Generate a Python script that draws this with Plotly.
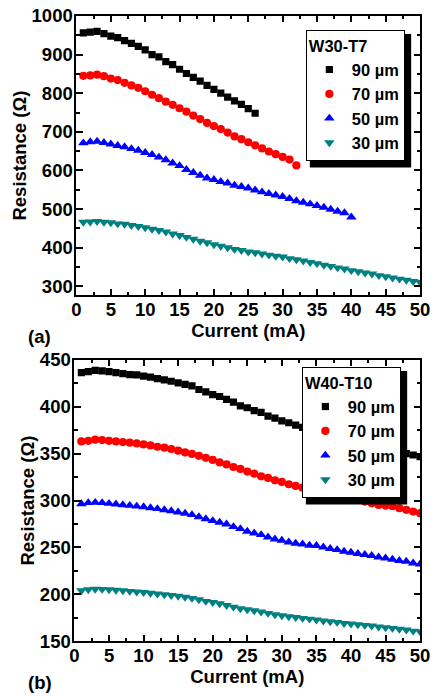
import plotly.graph_objects as go

# ---------------- data ----------------
current = list(range(1, 51))  # mA

# panel (a) W30-T7
a_90 = [956, 958, 960, 954, 948, 944, 936, 929, 921, 912, 900, 894, 882, 874, 862,
        851, 841, 831, 820, 810, 800, 790, 780, 771, 760, 748]
a_70 = [845, 846, 848, 844, 838, 834, 827, 820, 814, 805, 796, 787, 778, 770, 761,
        752, 742, 733, 723, 715, 707, 698, 688, 681, 673, 665, 657, 649, 642, 635,
        628, 613]
a_50 = [671, 674, 675, 672, 668, 664, 661, 656, 652, 646, 641, 634, 627, 619, 612,
        602, 594, 587, 580, 576, 571, 567, 561, 558, 554, 549, 544, 540, 536, 532,
        527, 521, 517, 513, 509, 504, 499, 494, 490, 479]
a_30 = [466, 467, 468, 466, 465, 462, 461, 458, 455, 452, 448, 445, 441, 436, 432,
        427, 422, 417, 413, 408, 404, 400, 396, 393, 389, 387, 384, 381, 378, 376,
        372, 369, 366, 362, 359, 355, 352, 348, 345, 341, 338, 335, 332, 328, 325,
        322, 319, 316, 313, 310]

# panel (b) W40-T10
b_90 = [436.5, 437.6, 439.0, 438.3, 437.6, 436.5, 435.4, 434.4, 434.0, 432.7, 431.6,
        430.0, 428.7, 427.3, 425.5, 424.0, 422.3, 418.5, 416.0, 413.0, 411.0, 408.0,
        405.0, 401.0, 399.0, 396.0, 394.0, 390.0, 388.0, 385.0, 383.0, 380.5, 378.0,
        375.5, 373.5, 371.5, 369.5, 367.5, 365.5, 363.5, 361.5, 359.5, 357.5, 355.5,
        354.0, 352.5, 351.0, 350.0, 348.6, 346.8]
b_70 = [363.1, 363.8, 364.9, 364.6, 363.8, 363.1, 362.4, 361.7, 361.0, 359.9, 358.8,
        357.4, 356.4, 355.0, 353.2, 351.4, 349.7, 347.7, 345.6, 343.3, 340.7, 338.6,
        335.8, 333.7, 330.9, 328.7, 325.9, 324.2, 321.6, 319.9, 317.4, 315.6, 313.8,
        312.0, 310.5, 309.0, 307.5, 306.0, 304.0, 302.5, 300.7, 298.9, 297.1, 295.4,
        294.7, 294.0, 291.9, 290.1, 288.3, 286.5]
b_50 = [296.5, 297.6, 297.9, 297.6, 296.8, 296.1, 295.4, 294.7, 293.9, 293.3, 292.2,
        291.2, 290.1, 289.0, 287.6, 286.2, 284.8, 282.5, 280.5, 278.4, 276.6, 274.8,
        272.0, 269.9, 267.0, 265.2, 263.5, 261.0, 258.9, 257.4, 255.7, 254.3, 253.5,
        252.1, 251.8, 250.3, 248.6, 247.5, 245.7, 244.7, 243.3, 242.2, 241.2, 239.7,
        238.6, 237.2, 235.8, 235.1, 233.3, 232.2]
b_30 = [204.0, 205.0, 205.6, 205.4, 205.0, 204.5, 204.0, 203.3, 202.7, 202.0, 201.2,
        200.4, 199.6, 198.8, 198.0, 197.0, 195.8, 194.4, 192.6, 191.5, 190.1, 188.3,
        186.5, 184.8, 183.7, 182.6, 181.2, 179.8, 178.4, 177.3, 176.3, 175.5, 174.5,
        173.7, 172.7, 171.6, 170.9, 170.2, 169.1, 168.4, 167.7, 167.0, 166.3, 165.2,
        164.5, 163.8, 162.8, 162.0, 160.9, 160.3]

labels = ["90 µm", "70 µm", "50 µm", "30 µm"]
colors = ["#000000", "#ff0000", "#0000ff", "#008080"]
symbols = ["square", "circle", "triangle-up", "triangle-down"]

# reference frame is 439x696; the page is laid out slightly larger (S) because the
# capture shrinks it to the window
RW, RH = 439, 696
S = 1.028
PW, PH = round(RW * S), round(RH * S)
FONT = "Liberation Sans, Arial, sans-serif"

def k(v):
    return v * S

sizes = [k(7), k(8), k(9), k(9)]

fig = go.Figure()

for series, lab, col, sym, sz in zip([a_90, a_70, a_50, a_30], labels, colors, symbols, sizes):
    fig.add_trace(go.Scatter(x=current[:len(series)], y=series, mode="markers", name=lab,
                             marker=dict(color=col, symbol=sym, size=sz, line=dict(width=0)),
                             xaxis="x", yaxis="y", legend="legend"))
for series, lab, col, sym, sz in zip([b_90, b_70, b_50, b_30], labels, colors, symbols, sizes):
    fig.add_trace(go.Scatter(x=current[:len(series)], y=series, mode="markers", name=lab,
                             marker=dict(color=col, symbol=sym, size=sz, line=dict(width=0)),
                             xaxis="x2", yaxis="y2", legend="legend2"))

def px_x(p):
    return p / RW

def px_y(p):
    return 1 - p / RH

bold = dict(family=FONT, size=k(18), color="black", weight="bold")
leg_font = dict(family=FONT, size=k(16), color="black", weight="bold")

axis_common = dict(
    showline=True, linecolor="black", linewidth=k(2), mirror="ticks",
    ticks="inside", ticklen=k(6), tickwidth=k(2), tickcolor="black",
    showgrid=False, zeroline=False,
    tickfont=bold,
)
minor_x = dict(dtick=2.5, ticklen=k(3), tickwidth=k(2), ticks="inside")

fig.update_layout(
    autosize=True,
    margin=dict(l=0, r=0, t=0, b=0),
    paper_bgcolor="white", plot_bgcolor="white",
    font=dict(family=FONT, color="black"),
    xaxis=dict(axis_common, domain=[px_x(80), px_x(426)], range=[0, 50], dtick=5, tick0=0,
               anchor="y", minor=minor_x, ticklabelstandoff=-3,
               title=dict(text="Current (mA)", standoff=k(5), font=bold)),
    yaxis=dict(axis_common, domain=[px_y(293), px_y(13)], range=[277, 1000], dtick=100,
               anchor="x", minor=dict(minor_x, dtick=50), ticklabelstandoff=-2,
               title=dict(text="Resistance (Ω)", standoff=0, font=bold)),
    xaxis2=dict(axis_common, domain=[px_x(78), px_x(426)], range=[0, 50], dtick=5, tick0=0,
                anchor="y2", minor=minor_x, ticklabelstandoff=-3,
                title=dict(text="Current (mA)", standoff=k(4), font=bold)),
    yaxis2=dict(axis_common, domain=[px_y(640), px_y(358)], range=[150, 450], dtick=50,
                anchor="x2", minor=dict(minor_x, dtick=25), ticklabelstandoff=-2,
                title=dict(text="Resistance (Ω)", standoff=0, font=bold)),
    legend=dict(x=px_x(311), y=px_y(27), xanchor="left", yanchor="top",
                bgcolor="white", bordercolor="black", borderwidth=1, itemwidth=k(34),
                font=leg_font, title=dict(text="W30-T7", font=leg_font)),
    legend2=dict(x=px_x(307), y=px_y(365), xanchor="left", yanchor="top",
                 bgcolor="white", bordercolor="black", borderwidth=1, itemwidth=k(34),
                 font=leg_font, title=dict(text="W40-T10", font=leg_font)),
    showlegend=True,
)

# legend drop shadows
for (x0, y0, x1, y1) in [(315, 31, 417, 165), (311, 369, 413, 503)]:
    fig.add_shape(type="rect", xref="paper", yref="paper",
                  x0=px_x(x0), x1=px_x(x1), y0=px_y(y1), y1=px_y(y0),
                  fillcolor="black", line=dict(width=0), layer="above")

for txt, yy in [("(a)", 334), ("(b)", 681)]:
    fig.add_annotation(text=txt, xref="paper", yref="paper", x=px_x(43), y=px_y(yy),
                       xanchor="center", yanchor="middle", showarrow=False, font=bold)

# the graph div is sized explicitly; the negative margin cancels the body's default margin
fig.write_html("out.html", default_width=f"{PW}px; margin:-8px", default_height=f"{PH}px")
